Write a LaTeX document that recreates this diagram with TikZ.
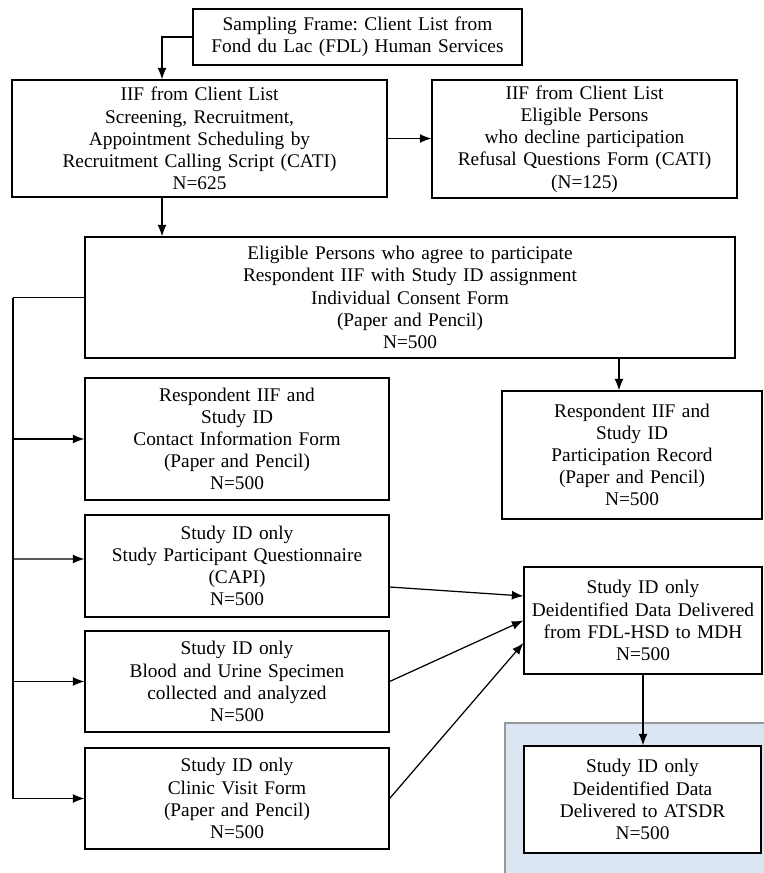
\documentclass[tikz,border=0pt]{standalone}
\usepackage{fontspec}
\setmainfont{Liberation Serif}
\usetikzlibrary{arrows.meta,shapes}
\usepackage{xcolor}
\definecolor{fondbleu}{RGB}{220,230,242}
\frenchspacing

\begin{document}
\begin{tikzpicture}[boite/.style={draw,line width=0.7pt,align=center,inner xsep=0pt,
        font=\fontsize{11}{12.6}\selectfont}]
        \useasboundingbox (0,0) rectangle (15.26,-17.46);
        \fill[fondbleu,draw=gray!80,line width=0.8pt] (10.1,-14.46) rectangle (15.5,-17.7);
        \node[boite,text width=6.58cm,minimum height=1.12cm] (S) at (7.15,-0.74) {Sampling Frame: Client List from\\Fond du Lac (FDL) Human Services};
        \node[boite,text width=7.5cm,minimum height=2.34cm] (IF) at (3.99,-2.77) {IIF from Client List\\Screening, Recruitment,\\Appointment Scheduling by\\Recruitment Calling Script (CATI)\\N=625};
        \node[boite,text width=6.1cm,minimum height=2.36cm] (R) at (11.69,-2.78) {IIF from Client List\\Eligible Persons\\who decline participation\\Refusal Questions Form (CATI)\\(N=125)};
        \node[boite,text width=13cm,minimum height=2.42cm] (E) at (8.2,-5.95) {Eligible Persons who agree to participate\\Respondent IIF with Study ID assignment\\Individual Consent Form\\(Paper and Pencil)\\N=500};
        \node[boite,text width=6.08cm,minimum height=2.44cm] (C) at (4.74,-8.78) {Respondent IIF and\\Study ID\\Contact Information Form\\(Paper and Pencil)\\N=500};
        \node[boite,text width=5.2cm,minimum height=2.56cm] (P) at (12.64,-9.1) {Respondent IIF and\\Study ID\\Participation Record\\(Paper and Pencil)\\N=500};
        \node[boite,text width=6.08cm,minimum height=2.04cm] (Q) at (4.74,-11.32) {Study ID only\\Study Participant Questionnaire\\(CAPI)\\N=500};
        \node[boite,text width=6.08cm,minimum height=2.02cm] (B) at (4.74,-13.63) {Study ID only\\Blood and Urine Specimen\\collected and analyzed\\N=500};
        \node[boite,text width=6.08cm,minimum height=2.02cm] (V) at (4.74,-15.97) {Study ID only\\Clinic Visit Form\\(Paper and Pencil)\\N=500};
        \node[boite,text width=4.76cm,minimum height=2.14cm] (D) at (12.86,-12.41) {Study ID only\\Deidentified Data Delivered\\from FDL-HSD to MDH\\N=500};
        \node[boite,fill=white,text width=4.74cm,minimum height=2.14cm] (A) at (12.85,-15.99) {Study ID only\\Deidentified Data\\Delivered to ATSDR\\N=500};
        \tikzset{fleche/.style={-{Latex[length=2.3mm,width=1.8mm]},line width=0.7pt}}
        \coordinate (IFn) at ([xshift=-0.75cm]IF.north);
        \coordinate (IFs) at ([xshift=-0.75cm]IF.south);
        \coordinate (Pn) at ([xshift=-0.26cm]P.north);
        \coordinate (T) at (0.26,-5.95);
        \draw[fleche] (S.west) -| (IFn);
        \draw[fleche] (IF.east) -- (IF.east -| R.west);
        \draw[fleche] (IFs) -- (IFs |- E.north);
        \draw[fleche] (Pn |- E.south) -- (Pn);
        \draw[line width=0.7pt] (E.west) -- (T);
        \draw[fleche] (T) |- (V.west);
        \draw[fleche] (T |- C.west) -- (C.west);
        \draw[fleche] (T |- Q.west) ++(0,0.14) -- ([yshift=0.14cm]Q.west);
        \draw[fleche] (T |- B.west) -- (B.west);
        \draw[fleche] ([yshift=-0.42cm]Q.east) -- ([yshift=0.49cm]D.west);
        \draw[fleche] (B.east) -- (D.west);
        \draw[fleche] (V.east) -- ([yshift=-0.45cm]D.west);
        \draw[fleche] (D.south) -- (D.south |- A.north);
\end{tikzpicture}
\end{document}
